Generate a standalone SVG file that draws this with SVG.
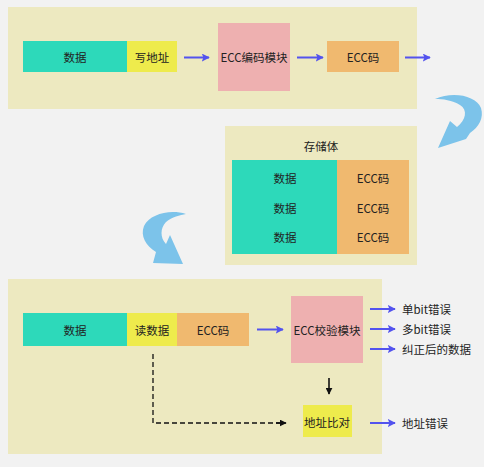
<svg xmlns="http://www.w3.org/2000/svg" width="484" height="467" viewBox="0 0 484 467">
<style>
text{font-family:"Noto Sans CJK SC","Liberation Sans",sans-serif;font-size:11.5px;fill:#222;text-anchor:middle;dominant-baseline:central}
.l{text-anchor:start}
.panel{fill:#ede9c0}
.teal{fill:#2dd9ba}
.yel{fill:#eeeb4c}
.pink{fill:#eeb0b0}
.org{fill:#f0b96f}
.ba{stroke:#5353ee;stroke-width:2;fill:none;marker-end:url(#bh)}
.ka{stroke:#111;stroke-width:1.6;fill:none;marker-end:url(#kh)}
.curve{fill:#7cc3ea}
</style>
<defs>
<marker id="bh" viewBox="0 0 10 10" refX="9" refY="5" markerWidth="8" markerHeight="8" orient="auto" markerUnits="userSpaceOnUse">
<path d="M0,0 L10,5 L0,10 L2,5 Z" fill="#5353ee"/>
</marker>
<marker id="kh" viewBox="0 0 10 10" refX="9" refY="5" markerWidth="7" markerHeight="7" orient="auto" markerUnits="userSpaceOnUse">
<path d="M0,0 L10,5 L0,10 Z" fill="#111"/>
</marker>
</defs>
<rect width="484" height="467" fill="#f2f2f2"/>

<g id="panel-write">
<rect class="panel" x="8" y="7" width="409" height="102"/>
</g>
<g id="panel-store">
<rect class="panel" x="225" y="126" width="192" height="139"/>
<text x="321" y="146">存储体</text>
</g>
<g id="panel-read">
<rect class="panel" x="8" y="279" width="374" height="175"/>
</g>

<g id="w-data"><rect class="teal" x="23" y="41" width="104" height="31"/><text x="75" y="57">数据</text></g>
<g id="w-addr"><rect class="yel" x="127" y="41" width="50" height="31"/><text x="152" y="57">写地址</text></g>
<g id="ecc-enc"><rect class="pink" x="218" y="23" width="72" height="68"/><text x="254" y="57">ECC编码模块</text></g>
<g id="w-ecc"><rect class="org" x="327" y="41" width="72" height="31"/><text x="363" y="57">ECC码</text></g>

<g id="store-grid">
<rect class="teal" x="232" y="160" width="105" height="94"/>
<rect class="org" x="337" y="160" width="72" height="94"/>
<text x="285" y="178">数据</text><text x="373" y="178">ECC码</text>
<text x="285" y="208">数据</text><text x="373" y="208">ECC码</text>
<text x="285" y="237">数据</text><text x="373" y="237">ECC码</text>
</g>

<g id="r-data"><rect class="teal" x="23" y="313" width="104" height="33"/><text x="75" y="330">数据</text></g>
<g id="r-read"><rect class="yel" x="127" y="313" width="50" height="33"/><text x="152" y="330">读数据</text></g>
<g id="r-ecc"><rect class="org" x="177" y="313" width="72" height="33"/><text x="213" y="330">ECC码</text></g>
<g id="ecc-chk"><rect class="pink" x="291" y="296" width="72" height="67"/><text x="327" y="330">ECC校验模块</text></g>
<g id="addr-cmp"><rect class="yel" x="303" y="405" width="49" height="32"/><text x="327" y="422">地址比对</text></g>

<g id="outputs">
<text class="l" x="402" y="309">单bit错误</text>
<text class="l" x="402" y="329">多bit错误</text>
<text class="l" x="402" y="349">纠正后的数据</text>
<text class="l" x="402" y="423">地址错误</text>
</g>

<g id="connectors">
<line class="ba" x1="184" y1="57.5" x2="209" y2="57.5"/>
<line class="ba" x1="297" y1="57.5" x2="323" y2="57.5"/>
<line class="ba" x1="405" y1="57.5" x2="430" y2="57.5"/>
<line class="ba" x1="257" y1="329.5" x2="283" y2="329.5"/>
<line class="ba" x1="370" y1="309" x2="395" y2="309"/>
<line class="ba" x1="370" y1="329" x2="395" y2="329"/>
<line class="ba" x1="370" y1="349" x2="395" y2="349"/>
<line class="ba" x1="370" y1="423" x2="395" y2="423"/>
<line class="ka" x1="329" y1="378" x2="329" y2="394"/>
<path d="M153,354 V423 H280" stroke="#111" stroke-width="1.3" fill="none" stroke-dasharray="5,3"/>
<line class="ka" x1="276" y1="423" x2="286" y2="423"/>
<path class="curve" d="M435,99 C452,91 476,95 481,108 C484,118 479,127 470,133 L466,139 L438,148 L450,121 L457,127 C466,120 468,110 460,105 C452,100 443,99 435,99 Z"/>
<path class="curve" d="M186,214 C170,209 150,214 144,226 C140,236 146,246 156,252 L153,263 L183,264 L170,235 L166,244 C160,238 160,228 166,222 C172,217 180,215 186,214 Z"/>
</g>
</svg>
